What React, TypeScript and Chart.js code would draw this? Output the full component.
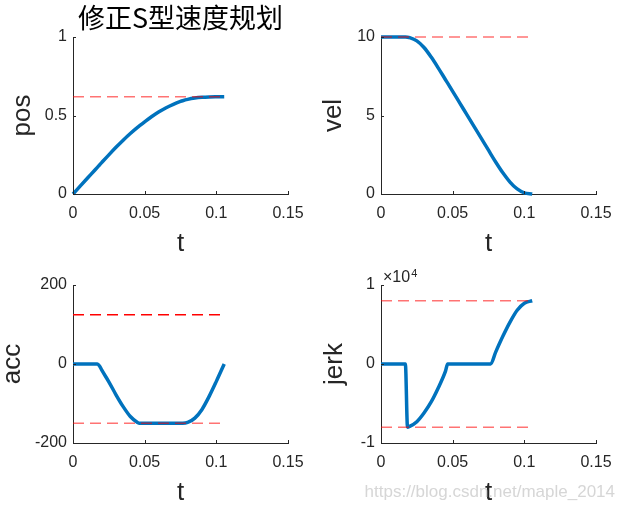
import React, { useEffect, useRef } from 'react';
import { Chart, registerables } from 'chart.js';

Chart.register(...registerables);

// ---- data ----
const TIME = [0, 0.005, 0.01, 0.015, 0.017, 0.0185, 0.02, 0.025, 0.03, 0.035, 0.04, 0.045, 0.0465, 0.05, 0.055, 0.06, 0.065, 0.07, 0.075, 0.0765, 0.08, 0.085, 0.09, 0.095, 0.1, 0.1055];
const POS = [0, 0.05, 0.1, 0.15, 0.17, 0.185, 0.2, 0.2495, 0.2975, 0.343, 0.3855, 0.4245, 0.4355, 0.46, 0.4935, 0.5235, 0.5495, 0.5715, 0.5895, 0.594, 0.6025, 0.611, 0.616, 0.6185, 0.6195, 0.62];
const VEL = [10, 10, 10, 10, 10, 9.99, 9.96, 9.75, 9.33, 8.72, 8.02, 7.28, 7.06, 6.54, 5.79, 5.04, 4.29, 3.54, 2.79, 2.56, 2.04, 1.35, 0.76, 0.32, 0.07, 0];
const ACC = [0, 0, 0, 0, 0, -5, -15, -45, -78, -108, -133, -148, -150, -150, -150, -150, -150, -150, -150, -150, -148, -137, -115, -82, -44, 0];
const JERK = [0, 0, 0, 0, 0, -8000, -7900, -7300, -6200, -4800, -3000, -900, 0, 0, 0, 0, 0, 0, 0, 0, 1500, 3500, 5300, 6800, 7700, 8000];

const LIMIT_SPAN = [0, 0.1055];
const POS_LIMITS = [0.62];
const VEL_LIMITS = [10];
const ACC_LIMITS = [125, -150];
const JERK_LIMITS = [8000, -8000];

const X_TICKS = [0, 0.05, 0.1, 0.15];
const X_TICK_LABELS = ['0', '0.05', '0.1', '0.15'];
const POS_TICKS = [0, 0.5, 1];
const POS_TICK_LABELS = ['0', '0.5', '1'];
const VEL_TICKS = [0, 5, 10];
const VEL_TICK_LABELS = ['0', '5', '10'];
const ACC_TICKS = [-200, 0, 200];
const ACC_TICK_LABELS = ['-200', '0', '200'];
const JERK_TICKS = [-10000, 0, 10000];
const JERK_TICK_LABELS = ['-1', '0', '1'];
const JERK_EXP_BASE = '×10';
const JERK_EXP = '4';

const TITLE = '修正S型速度规划';
const X_LABEL = 't';
const WATERMARK = 'https://blog.csdn.net/maple_2014';

// ---- style ----
const W = 626;
const H = 510;
const FONT = '"Liberation Sans", Arial, Helvetica, sans-serif';
const CJK = '"Noto Sans CJK SC", "Liberation Sans", sans-serif';
const AXIS = '#262626';
const BLUE = '#0072BD';
const RED_SOFT = 'rgba(255,0,0,0.55)';
const RED = '#FF0000';
const X_AXIS_H = 66;
const TICK_LEN = 3;

const inwardTicks = {
  id: 'inwardTicks',
  afterDraw(chart: any) {
    const { ctx, chartArea: a } = chart;
    const xs = chart.scales.x;
    const ys = chart.scales.y;
    ctx.save();
    ctx.strokeStyle = AXIS;
    ctx.lineWidth = 1;
    ctx.beginPath();
    for (const t of xs.ticks) {
      const px = Math.round(xs.getPixelForValue(t.value)) + 0.5;
      ctx.moveTo(px, a.bottom);
      ctx.lineTo(px, a.bottom - TICK_LEN);
    }
    for (const t of ys.ticks) {
      const py = Math.round(ys.getPixelForValue(t.value)) + 0.5;
      ctx.moveTo(a.left, py);
      ctx.lineTo(a.left + TICK_LEN, py);
    }
    ctx.stroke();
    ctx.restore();
  },
};

const exponentLabel = {
  id: 'exponentLabel',
  afterDraw(chart: any) {
    const { ctx, chartArea: a } = chart;
    ctx.save();
    ctx.fillStyle = AXIS;
    ctx.textAlign = 'left';
    ctx.textBaseline = 'alphabetic';
    ctx.font = `16px ${FONT}`;
    ctx.fillText(JERK_EXP_BASE, a.left + 2, a.top - 3);
    const w = ctx.measureText(JERK_EXP_BASE).width;
    ctx.font = `11px ${FONT}`;
    ctx.fillText(JERK_EXP, a.left + 2 + w + 1, a.top - 8);
    ctx.font = `17px ${FONT}`;
    ctx.textAlign = 'right';
    ctx.fillStyle = 'rgba(200,200,200,0.75)';
    ctx.fillText(WATERMARK, 615, 497);
    ctx.restore();
  },
};

type Panel = {
  values: number[];
  yMin: number;
  yMax: number;
  yTicks: number[];
  yTickLabels: string[];
  yLabel: string;
  limits: number[];
  limitColors: string[];
  area: { left: number; top: number; right: number; bottom: number };
  padLeft: number;
  yLabelPad: number;
  title?: string;
  extra?: any;
};

function buildConfig(p: Panel): any {
  const datasets: any[] = [
    ...p.limits.map((v, i) => ({
      data: LIMIT_SPAN.map((t) => ({ x: t, y: v })),
      borderColor: p.limitColors[i],
      borderWidth: 1.5,
      borderDash: [11, 6],
      pointRadius: 0,
      fill: false,
      clip: false,
      order: 0,
    })),
    {
      data: TIME.map((t, i) => ({ x: t, y: p.values[i] })),
      borderColor: BLUE,
      borderWidth: 3.5,
      pointRadius: 0,
      fill: false,
      clip: false,
      order: 1,
      cubicInterpolationMode: 'monotone',
      borderJoinStyle: 'round',
    },
  ];
  const tickFont = { family: FONT, size: 16 };
  const labelFont = { family: FONT, size: 26, lineHeight: 1 };
  return {
    type: 'line',
    data: { datasets },
    options: {
      animation: false,
      responsive: false,
      events: [],
      layout: {
        padding: {
          left: p.padLeft,
          right: W - p.area.right,
          top: p.title ? 0 : p.area.top,
          bottom: H - p.area.bottom - X_AXIS_H,
        },
      },
      plugins: {
        legend: { display: false },
        tooltip: { enabled: false },
        title: p.title
          ? {
              display: true,
              text: p.title,
              fullSize: false,
              color: '#000',
              font: { family: CJK, size: 27, weight: 'normal', lineHeight: 1.2 },
              padding: { top: 1.5, bottom: p.area.top - 32.4 - 1.5 },
            }
          : { display: false },
      },
      scales: {
        x: {
          type: 'linear',
          min: 0,
          max: 0.15,
          grid: { display: false, drawTicks: false },
          border: { display: true, color: AXIS, width: 1 },
          ticks: {
            padding: 10,
            color: AXIS,
            font: tickFont,
            maxRotation: 0,
            autoSkip: false,
            callback: (_v: any, i: number) => X_TICK_LABELS[i],
          },
          afterBuildTicks: (s: any) => {
            s.ticks = X_TICKS.map((v) => ({ value: v }));
          },
          afterFit: (s: any) => {
            s.height = X_AXIS_H;
          },
          title: {
            display: true,
            text: X_LABEL,
            color: AXIS,
            font: labelFont,
            padding: { top: 0, bottom: 3 },
          },
        },
        y: {
          type: 'linear',
          min: p.yMin,
          max: p.yMax,
          grid: { display: false, drawTicks: false },
          border: { display: true, color: AXIS, width: 1 },
          ticks: {
            padding: 6,
            color: AXIS,
            font: tickFont,
            autoSkip: false,
            callback: (_v: any, i: number) => p.yTickLabels[i],
          },
          afterBuildTicks: (s: any) => {
            s.ticks = p.yTicks.map((v) => ({ value: v }));
          },
          afterFit: (s: any) => {
            s.width = p.area.left - p.padLeft;
          },
          title: {
            display: true,
            text: p.yLabel,
            color: AXIS,
            font: labelFont,
            padding: { top: p.yLabelPad, bottom: 0 },
          },
        },
      },
    },
    plugins: [inwardTicks, ...(p.extra ? [p.extra] : [])],
  };
}

const PANELS: Panel[] = [
  {
    values: POS, yMin: 0, yMax: 1, yTicks: POS_TICKS, yTickLabels: POS_TICK_LABELS, yLabel: 'pos',
    limits: POS_LIMITS, limitColors: [RED_SOFT],
    area: { left: 73, top: 37, right: 288, bottom: 194 }, padLeft: 0, yLabelPad: 9.7, title: TITLE,
  },
  {
    values: VEL, yMin: 0, yMax: 10, yTicks: VEL_TICKS, yTickLabels: VEL_TICK_LABELS, yLabel: 'vel',
    limits: VEL_LIMITS, limitColors: [RED_SOFT],
    area: { left: 381, top: 37, right: 596, bottom: 194 }, padLeft: 313, yLabelPad: 8,
  },
  {
    values: ACC, yMin: -200, yMax: 200, yTicks: ACC_TICKS, yTickLabels: ACC_TICK_LABELS, yLabel: 'acc',
    limits: ACC_LIMITS, limitColors: [RED, RED_SOFT],
    area: { left: 73, top: 285, right: 288, bottom: 443 }, padLeft: 0, yLabelPad: 0,
  },
  {
    values: JERK, yMin: -10000, yMax: 10000, yTicks: JERK_TICKS, yTickLabels: JERK_TICK_LABELS, yLabel: 'jerk',
    limits: JERK_LIMITS, limitColors: [RED_SOFT, RED_SOFT],
    area: { left: 381, top: 285, right: 596, bottom: 443 }, padLeft: 313, yLabelPad: 9, extra: exponentLabel,
  },
];

export default function App() {
  const refs = [useRef<HTMLCanvasElement>(null), useRef<HTMLCanvasElement>(null), useRef<HTMLCanvasElement>(null), useRef<HTMLCanvasElement>(null)];
  useEffect(() => {
    const charts = PANELS.map((p, i) => new Chart(refs[i].current as HTMLCanvasElement, buildConfig(p)));
    return () => charts.forEach((c) => c.destroy());
  }, []);
  return (
    <div style={{ position: 'absolute', left: 0, top: 0, width: W, height: H, background: '#fff' }}>
      {refs.map((r, i) => (
        <canvas key={i} ref={r} width={W} height={H} style={{ position: 'absolute', left: 0, top: 0, width: W, height: H }} />
      ))}
    </div>
  );
}
